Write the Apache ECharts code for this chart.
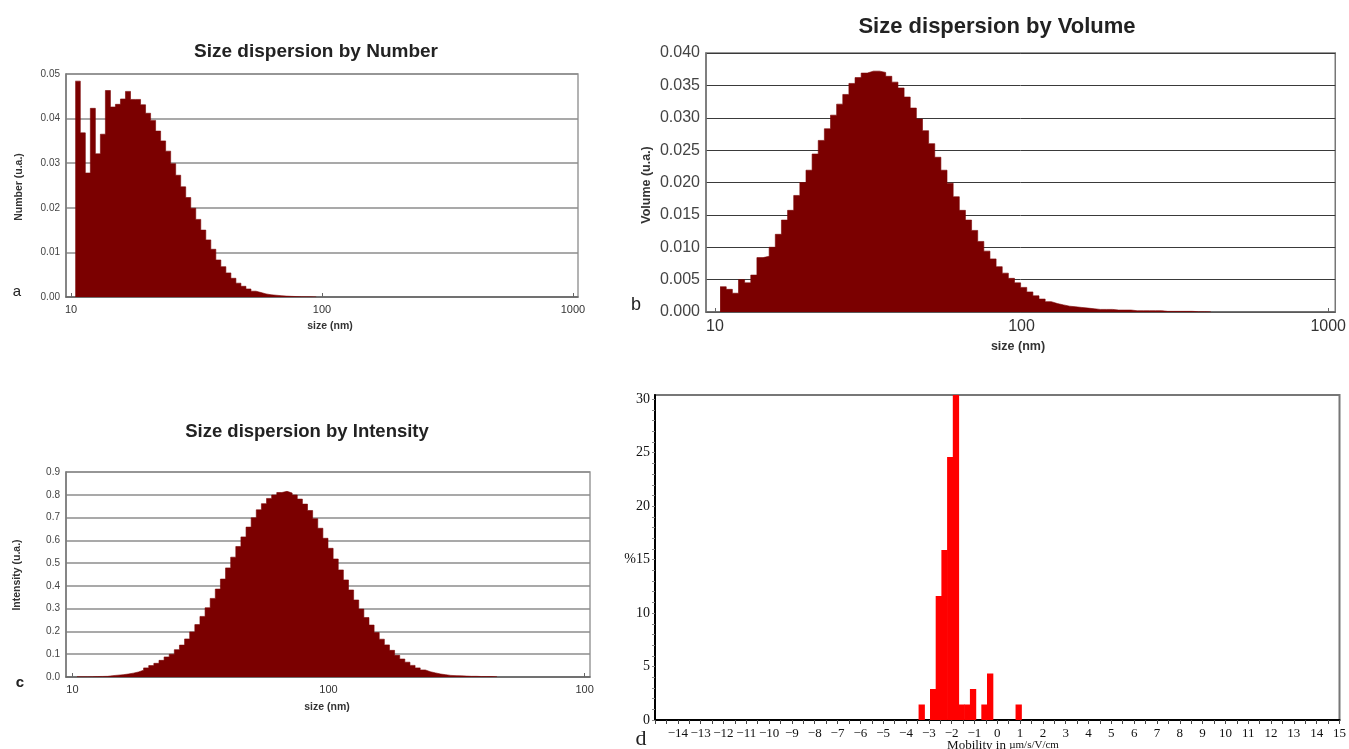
<!DOCTYPE html>
<html>
<head>
<meta charset="utf-8">
<script src="https://cdn.jsdelivr.net/npm/echarts@6/dist/echarts.min.js"></script>
<style>
  html, body { margin: 0; background: #fff; }
  #chart { width: 1349px; height: 749px; }
</style>
</head>
<body>
<div id="chart"></div>
<script>
// size bins are evenly spaced in log10(size), 50 per decade
const BIN_STEP = 0.02

// a - size dispersion by number
const numberBinStart = 1.017
const numberValues = [
  0.0484, 0.0368, 0.0278, 0.0423, 0.0321, 0.0365, 0.0463, 0.0426, 0.0432, 0.0444,
  0.0461, 0.0443, 0.0443, 0.0431, 0.0412, 0.0396, 0.0372, 0.0350, 0.0327, 0.0299,
  0.0273, 0.0247, 0.0223, 0.0199, 0.0174, 0.0150, 0.0128, 0.0107, 0.0083, 0.0068,
  0.0054, 0.0042, 0.0031, 0.0024, 0.0018, 0.0013, 0.0010, 0.0007, 0.0005, 0.0004,
  0.0003, 0.0002, 0.00015, 0.0001, 0.00008, 0.00006, 0.00004, 0.00002
]

// b - size dispersion by volume
const volumeBinStart = 1.017
const volumeValues = [
  0.0039, 0.0035, 0.0029, 0.0050, 0.0045, 0.0057, 0.0084, 0.0086, 0.0100, 0.0120,
  0.0142, 0.0157, 0.0180, 0.0200, 0.0219, 0.0244, 0.0265, 0.0283, 0.0304, 0.0321,
  0.0336, 0.0353, 0.0362, 0.0369, 0.0372, 0.0372, 0.0370, 0.0364, 0.0355, 0.0346,
  0.0332, 0.0315, 0.0298, 0.0280, 0.0260, 0.0239, 0.0219, 0.0199, 0.0178, 0.0157,
  0.0142, 0.0126, 0.0109, 0.0094, 0.0082, 0.0070, 0.0060, 0.0052, 0.0045, 0.0038,
  0.0031, 0.0025, 0.0020, 0.0016, 0.0013, 0.0011, 0.0009, 0.0008, 0.0007, 0.0006,
  0.0005, 0.0004, 0.0004, 0.0004, 0.0003, 0.0003, 0.0003, 0.0002, 0.0002, 0.0002,
  0.0002, 0.0002, 0.0001, 0.0001, 0.0001, 0.0001, 0.0001, 0.00005, 0.00005, 0.00005
]

// c - size dispersion by intensity
const intensityBinStart = 1.018
const intensityValues = [
  0.001, 0.001, 0.0015, 0.002, 0.0025, 0.003, 0.006, 0.008, 0.010, 0.013,
  0.017, 0.022, 0.030, 0.040, 0.050, 0.060, 0.073, 0.088, 0.100, 0.120,
  0.140, 0.167, 0.198, 0.230, 0.266, 0.304, 0.345, 0.386, 0.430, 0.479,
  0.526, 0.573, 0.615, 0.658, 0.699, 0.734, 0.761, 0.784, 0.799, 0.810,
  0.815, 0.808, 0.799, 0.781, 0.759, 0.731, 0.695, 0.653, 0.609, 0.565,
  0.518, 0.470, 0.426, 0.382, 0.338, 0.298, 0.261, 0.228, 0.195, 0.166,
  0.141, 0.117, 0.095, 0.079, 0.065, 0.051, 0.040, 0.031, 0.023, 0.018,
  0.013, 0.010, 0.007, 0.006, 0.005, 0.004, 0.003, 0.003, 0.002, 0.002,
  0.002, 0.0015
]

// d - mobility distribution (bin centres in um/s/V/cm, % per bin)
const MOBILITY_BIN = 0.25
const mobilityCenters = [-3.31, -2.81, -2.56, -2.31, -2.06, -1.81, -1.56, -1.31, -1.06, -0.56, -0.31, 0.94]
const mobilityValues = [1.45, 2.9, 11.6, 15.9, 24.6, 32, 1.45, 1.45, 2.9, 1.45, 4.35, 1.45]

// tick labels
const sizeTicks = [1, 2, 3]
const sizeTickLabels = ['10', '100', '1000']
const intensityTickLabels = ['10', '100', '100'] // last one is cut off in the source
const mobilityTicks = [-14, -13, -12, -11, -10, -9, -8, -7, -6, -5, -4, -3, -2, -1, 0,
  1, 2, 3, 4, 5, 6, 7, 8, 9, 10, 11, 12, 13, 14, 15]
const percentTicks = [0, 5, 10, 15, 20, 25, 30]

const MAROON = '#7b0000'
const SANS = 'Liberation Sans, Arial, sans-serif'
const SERIF = 'Liberation Serif, Times New Roman, serif'

const minorMobility = []
for (let v = -15; v <= 15; v += 0.5) minorMobility.push(v)
const minorPercent = []
for (let v = 0; v <= 30; v++) minorPercent.push(v)

function stepData(start, values) {
  const pts = values.map((v, i) => [start + i * BIN_STEP, v])
  pts.push([start + values.length * BIN_STEP, values[values.length - 1]])
  return pts
}

function sizeAxis(grid, min, max, fontSize, labels) {
  return {
    type: 'value', gridIndex: grid, min: min, max: max,
    axisLine: { show: true, lineStyle: { color: '#666', width: 1.5 } },
    axisTick: { show: true, inside: true, length: 4, customValues: sizeTicks, lineStyle: { color: '#666' } },
    axisLabel: {
      customValues: sizeTicks, fontFamily: SANS, fontSize: fontSize, color: '#333', margin: 7,
      formatter: v => labels[sizeTicks.indexOf(Math.round(v))]
    },
    splitLine: { show: false }
  }
}

function valueAxis(grid, max, interval, digits, fontSize, gridColor, gridWidth) {
  return {
    type: 'value', gridIndex: grid, min: 0, max: max, interval: interval,
    axisLine: { show: true, onZero: false, lineStyle: { color: '#777', width: 1.5 } },
    axisTick: { show: false },
    axisLabel: { fontFamily: SANS, fontSize: fontSize, color: '#444', margin: 6, formatter: v => v.toFixed(digits) },
    splitLine: { show: true, lineStyle: { color: gridColor, width: gridWidth } }
  }
}

function histSeries(idx, start, values) {
  return {
    type: 'line', xAxisIndex: idx, yAxisIndex: idx, step: 'end', symbol: 'none',
    data: stepData(start, values), silent: true,
    lineStyle: { color: MAROON, width: 0.6 },
    areaStyle: { color: MAROON, opacity: 1 }
  }
}

function label(x, y, text, font, extra) {
  return Object.assign({
    type: 'text', x: x, y: y,
    style: Object.assign({ text: text, fill: '#222', align: 'center', verticalAlign: 'middle' }, font)
  }, extra || {})
}

const chart = echarts.init(document.getElementById('chart'))
chart.setOption({
  animation: false,
  grid: [
    { left: 66, top: 74, width: 512, height: 223, show: true, borderColor: '#9a9a9a', borderWidth: 1.5 },
    { left: 706, top: 53, width: 631, height: 259, show: true, borderColor: '#777', borderWidth: 1.5 },
    { left: 66, top: 472, width: 524, height: 205, show: true, borderColor: '#9a9a9a', borderWidth: 1.5 },
    { left: 655, top: 395, width: 688, height: 325, show: true, borderColor: '#777', borderWidth: 2 }
  ],
  xAxis: [
    sizeAxis(0, 0.98, 3.02, 11, sizeTickLabels),
    sizeAxis(1, 0.971, 3.023, 16, sizeTickLabels),
    sizeAxis(2, 0.975, 3.021, 11, intensityTickLabels),
    {
      type: 'value', gridIndex: 3, min: -15, max: 15,
      axisLine: { show: true, onZero: false, lineStyle: { color: '#000', width: 2 } },
      axisTick: { show: true, length: 4, customValues: minorMobility, lineStyle: { color: '#444' } },
      axisLabel: {
        customValues: mobilityTicks, fontFamily: SERIF, fontSize: 13, color: '#111', margin: 7,
        formatter: v => (v < 0 ? '\u2212' + (-v) : String(v))
      },
      splitLine: { show: false }
    }
  ],
  yAxis: [
    valueAxis(0, 0.05, 0.01, 2, 10, '#8c8c8c', 1.5),
    valueAxis(1, 0.04, 0.005, 3, 16, '#3a3a3a', 1),
    valueAxis(2, 0.9, 0.1, 1, 10, '#8c8c8c', 1.5),
    {
      type: 'value', gridIndex: 3, min: 0, max: 30.4,
      axisLine: { show: true, onZero: false, lineStyle: { color: '#000', width: 2 } },
      axisTick: { show: true, length: 3, customValues: minorPercent, lineStyle: { color: '#888' } },
      axisLabel: {
        customValues: percentTicks, fontFamily: SERIF, fontSize: 14, color: '#111', margin: 5,
        formatter: v => (v === 15 ? '%15' : String(v))
      },
      splitLine: { show: false }
    }
  ],
  series: [
    histSeries(0, numberBinStart, numberValues),
    histSeries(1, volumeBinStart, volumeValues),
    histSeries(2, intensityBinStart, intensityValues),
    {
      type: 'custom', xAxisIndex: 3, yAxisIndex: 3, silent: true,
      data: mobilityCenters.map((c, i) => [c, mobilityValues[i]]),
      renderItem: (params, api) => {
        const c = api.value(0)
        const p0 = api.coord([c - MOBILITY_BIN / 2, api.value(1)])
        const p1 = api.coord([c + MOBILITY_BIN / 2, 0])
        const cs = params.coordSys
        const shape = echarts.graphic.clipRectByRect(
          { x: p0[0] - 0.3, y: p0[1], width: p1[0] - p0[0] + 0.6, height: p1[1] - p0[1] },
          { x: cs.x, y: cs.y, width: cs.width, height: cs.height }
        )
        return shape && { type: 'rect', shape: shape, style: { fill: '#ff0000' } }
      }
    }
  ],
  graphic: [
    // titles
    label(316, 52, 'Size dispersion by Number', { font: 'bold 19px ' + SANS }),
    label(997, 27, 'Size dispersion by Volume', { font: 'bold 22px ' + SANS }),
    label(307, 432, 'Size dispersion by Intensity', { font: 'bold 18.5px ' + SANS }),
    // axis names
    label(19, 187, 'Number (u.a.)', { font: 'bold 10.5px ' + SANS, fill: '#333' }, { rotation: Math.PI / 2 }),
    label(330, 326, 'size (nm)', { font: 'bold 10.5px ' + SANS, fill: '#333' }),
    label(647, 185, 'Volume (u.a.)', { font: 'bold 12.5px ' + SANS, fill: '#333' }, { rotation: Math.PI / 2 }),
    label(1018, 347, 'size (nm)', { font: 'bold 12.5px ' + SANS, fill: '#333' }),
    label(17, 575, 'Intensity (u.a.)', { font: 'bold 10.5px ' + SANS, fill: '#333' }, { rotation: Math.PI / 2 }),
    label(327, 707, 'size (nm)', { font: 'bold 10.5px ' + SANS, fill: '#333' }),
    {
      type: 'text', x: 1003, y: 739,
      style: {
        text: '{a|Mobility in }{b|\u00b5m/s/V/cm}', align: 'center', verticalAlign: 'top',
        rich: {
          a: { font: '13px ' + SERIF, fill: '#111' },
          b: { font: '11px ' + SERIF, fill: '#111' }
        }
      }
    },
    // panel letters
    label(17, 292, 'a', { font: '15px ' + SANS }),
    label(636, 305, 'b', { font: '18px ' + SANS }),
    label(20, 683, 'c', { font: 'bold 15px ' + SANS }),
    label(641, 739, 'd', { font: '22px ' + SERIF })
  ]
})
</script>
</body>
</html>
